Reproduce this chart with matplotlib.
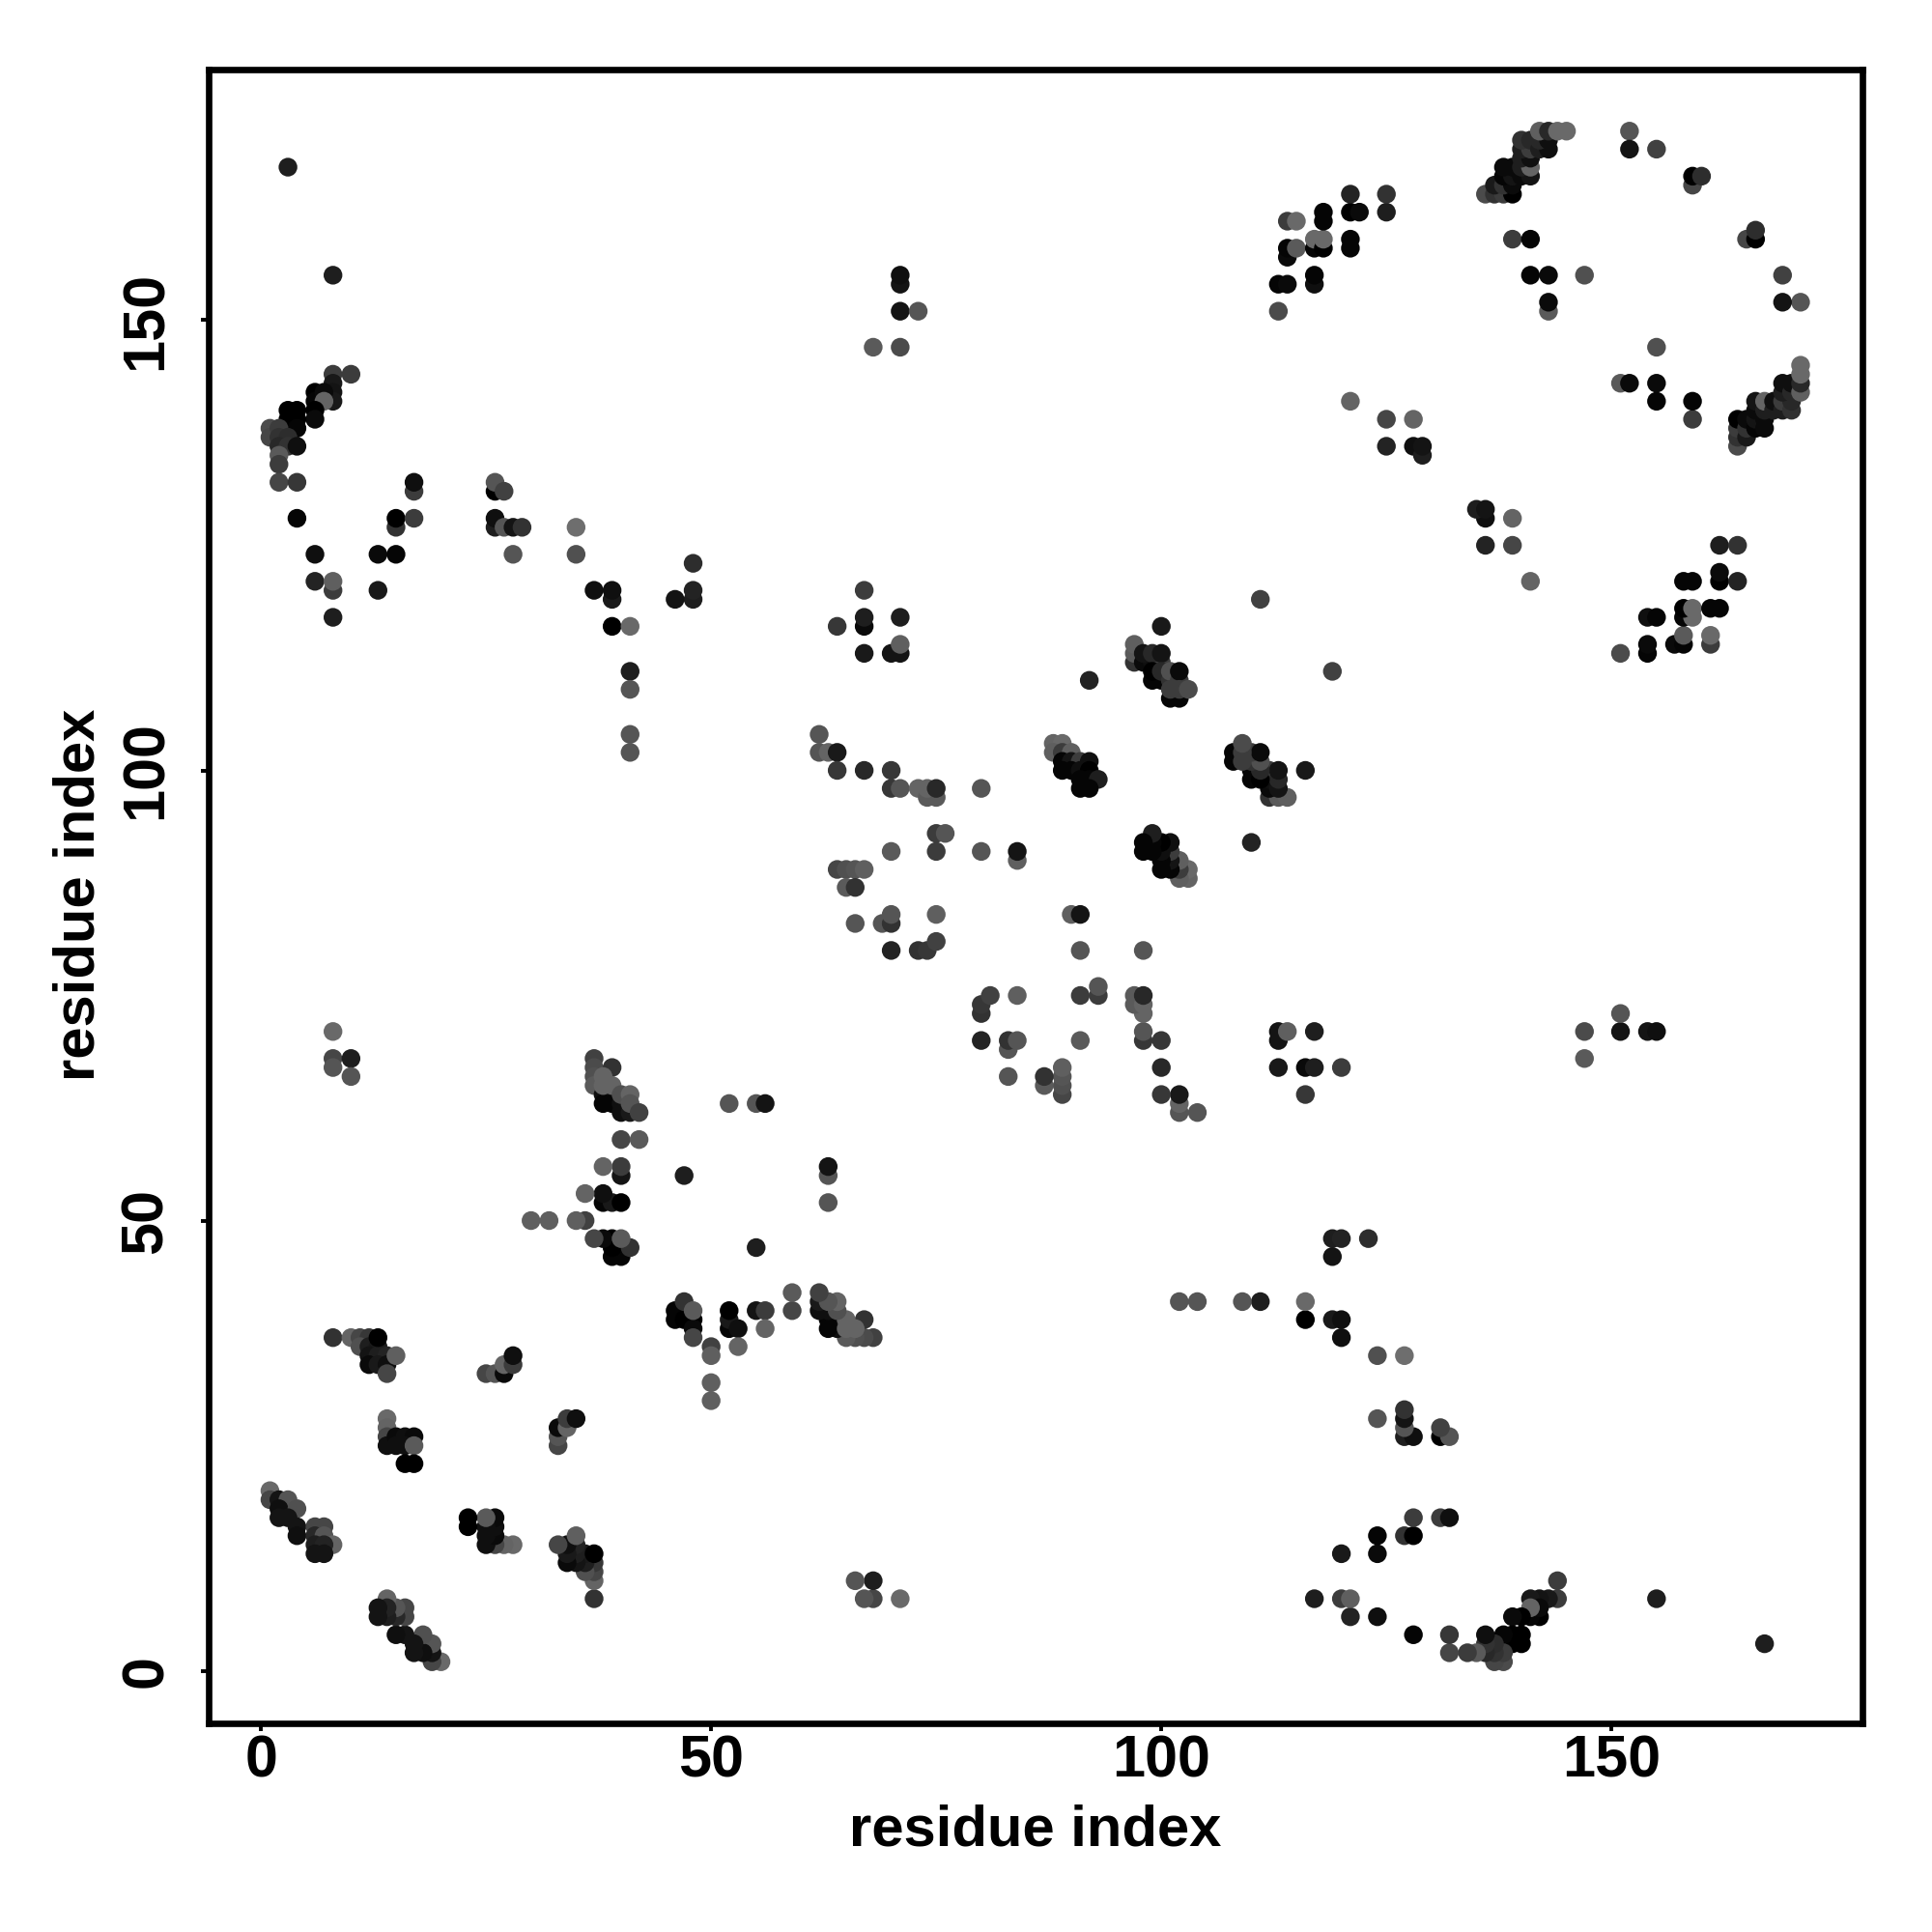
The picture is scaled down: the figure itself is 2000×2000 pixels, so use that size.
import matplotlib
matplotlib.use("Agg")
import matplotlib.pyplot as plt

# Contact pairs as (residue i, residue j, grey level 0-255); the map is symmetric.
near_1_8 = [(1,20,105),(1,19,70),(2,19,20),(3,19,85),(2,18,15),(4,18,80),(2,17,20),(3,17,20),
            (4,16,20),(4,15,15),(6,16,70),(7,16,70),(6,15,40),(7,15,85),(8,14,100),(6,14,30),
            (7,14,35),(6,13,20),(7,13,20)]
block_8_15 = [(8,37,50),(10,37,100),(11,37,70),(12,37,55),(11,36,80),(12,36,30),(13,36,25),
              (12,35,20),(13,35,30),(14,35,35),(12,34,10),(13,34,25),(14,34,15),(14,33,70),
              (13,37,0),(15,35,95)]
block_14_17 = [(14,28,105),(14,27,100),(14,26,70),(14,25,15),(15,26,10),(16,26,15),(17,26,10),
               (15,25,15),(16,25,15),(17,25,90),(16,23,0),(17,23,0)]
block_25_28 = [(25,33,70),(26,33,85),(27,33,10),(27,34,100),(28,34,60),(28,35,15)]
far_3_10 = [(8,71,105),(8,68,70),(8,67,85),(10,68,30),(10,66,85),(3,167,30),(8,155,30)]
sheet_30_47 = [(39,46,5),(40,46,5),(39,47,0),(41,47,50),(39,48,0),(38,48,10),(37,48,70),(40,48,90),
               (38,52,5),(39,52,25),(40,52,0),(38,53,15),(36,53,100),(40,55,20),(40,56,60),(38,56,100),
               (36,50,65),(35,50,95),(32,50,95),(30,50,95),(47,55,30)]
block_37_42 = [(37,68,65),(37,67,75),(37,66,80),(37,65,90),(39,67,50),(38,64,15),(39,64,15),(38,63,5),
               (39,63,5),(38,66,100),(39,65,100),(38,65,100),(40,63,15),(40,62,15),(41,62,25),
               (40,64,80),(41,64,100),(41,63,85),(42,62,65)]
row_59_63 = [(40,59,70),(42,59,90),(52,63,85),(55,63,85),(56,63,20)]
top_left = [(8,144,60),(10,144,60),(8,143,25),(8,142,20),(8,141,25),(6,142,0),(6,141,5),(7,142,10),
            (7,141,100),(6,140,0),(6,139,10),(3,140,0),(4,140,0),(3,139,0),(4,139,0),(3,138,0),(4,138,5),
            (1,138,75),(1,137,70),(2,138,60),(2,137,50),(3,137,45),(2,136,40),(3,136,50),(4,136,15),
            (2,135,90),(2,134,60),(2,132,70),(4,132,55)]
row_4_17 = [(4,128,5),(6,124,15),(6,121,35),(8,120,60),(8,121,95),(8,117,30),(13,124,10),(15,124,5),
            (13,120,25),(17,131,60),(17,132,15),(15,127,50),(15,128,0),(17,128,60)]
row_26_29 = [(26,131,0),(26,132,85),(27,131,65),(26,127,30),(26,128,15),(27,127,85),(28,127,20),
             (29,127,50),(28,124,85),(35,127,110),(35,124,80)]
row_37_48 = [(37,120,15),(39,119,25),(39,120,15),(39,116,0),(41,116,105),(41,111,30),(41,109,85),
             (41,104,85),(41,102,85),(48,123,45),(48,119,30),(48,120,35),(46,119,20)]
mid_62_71 = [(64,116,55),(67,116,10),(67,117,30),(71,117,30),(67,113,25),(70,113,20),(71,113,20),
             (71,114,95),(67,120,60)]
mid_62_80 = [(62,104,85),(62,102,85),(63,102,100),(64,102,25),(64,100,55),(67,100,40),(70,100,55),
             (70,98,55),(71,98,85),(73,98,100),(74,97,90),(75,97,90),(74,98,100),(75,98,40),(80,98,85)]
mid_70_84 = [(75,93,60),(76,93,85),(70,91,90),(75,91,60),(80,91,85),(84,90,95),(84,91,20)]
mid_64_67 = [(64,89,70),(65,89,80),(66,89,85),(67,89,95),(65,87,90),(66,87,50)]
mid_66_75 = [(66,83,85),(69,83,85),(70,83,50),(70,84,85),(75,84,95),(70,80,35),(73,80,50),(74,80,55),
             (75,81,65)]
long_68_73 = [(68,147,90),(71,147,75),(71,151,20),(73,151,85),(71,154,20),(71,155,15)]
helix_88_93 = [(88,103,100),(89,103,105),(88,102,95),(89,102,60),(90,102,95),(89,101,5),(90,101,20),
               (91,101,60),(92,101,15),(89,100,5),(90,100,5),(91,100,15),(92,100,0),(92,99,5),(91,99,5),
               (93,99,30),(91,98,5),(92,98,5)]
helix_97_103 = [(97,112,50),(97,113,90),(97,114,95),(98,112,10),(99,112,15),(100,112,60),(98,113,20),
                (99,113,40),(100,113,20),(99,110,5),(100,110,5),(99,111,0),(100,111,40),(101,110,50),
                (101,111,80),(102,110,60),(102,111,10),(101,108,5),(102,108,5),(101,109,60),(102,109,60),
                (103,109,75),(92,110,35),(100,116,25),(111,119,65)]
long_113_125 = [(113,151,75),(113,154,5),(114,154,10),(114,157,10),(114,158,5),(114,161,60),(115,158,90),
                (115,161,105),(117,154,15),(117,155,5),(117,158,5),(117,159,105),(118,158,0),(118,159,105),
                (118,161,5),(118,162,5),(121,158,5),(121,159,5),(121,162,0),(122,162,10),(121,164,35),
                (125,162,30),(125,164,50)]
long_121_129 = [(121,141,100),(125,139,70),(128,139,100),(125,136,35),(128,136,15),(129,135,30),(129,136,20)]
top_136_145 = [(136,164,75),(137,164,50),(138,164,60),(139,164,0),(137,165,25),(138,165,50),(139,165,10),
               (138,166,5),(139,166,20),(138,167,10),(139,167,10),(140,166,10),(141,166,20),(140,167,30),
               (141,167,100),(140,168,30),(141,168,15),(140,169,30),(141,169,60),(140,170,50),(141,170,40),
               (142,169,30),(143,169,15),(142,170,40),(143,170,15),(142,171,95),(143,171,40),(144,171,105),
               (145,171,105)]
long_139_160 = [(139,159,60),(141,159,5),(141,155,5),(143,155,10),(147,155,80),(143,151,90),(143,152,10),
                (152,171,85),(152,169,20),(155,169,65),(159,165,70),(159,166,0),(160,166,45)]

contact_groups = [near_1_8, block_8_15, block_14_17, block_25_28, far_3_10, sheet_30_47, block_37_42,
                  row_59_63, top_left, row_4_17, row_26_29, row_37_48, mid_62_71, mid_62_80, mid_70_84,
                  mid_64_67, mid_66_75, long_68_73, helix_88_93, helix_97_103, long_113_125, long_121_129,
                  top_136_145, long_139_160]
tick_values = [0, 50, 100, 150]
axis_label = "residue index"

contacts = [c for group in contact_groups for c in group]
res_i = [c[0] for c in contacts]
res_j = [c[1] for c in contacts]
greys = [(c[2] / 255,) * 3 for c in contacts]

plt.rcParams["font.family"] = ["Liberation Sans", "DejaVu Sans"]
plt.rcParams["font.weight"] = "bold"

fig = plt.figure(figsize=(20, 20), dpi=100, facecolor="white")
ax = fig.add_axes([215.7 / 2000, 1 - 1784 / 2000, 1712 / 2000, 1712 / 2000])

ax.scatter(res_i + res_j, res_j + res_i, s=195, c=greys + greys, linewidths=0, zorder=3, clip_on=True)

ax.set_xlim(-5.84, 177.84)
ax.set_ylim(-5.84, 177.84)
ax.set_xticks(tick_values)
ax.set_yticks(tick_values)
ax.tick_params(axis="both", length=6, width=2.8, labelsize=44, color="black")
ax.tick_params(axis="x", pad=2.5)
ax.tick_params(axis="y", pad=19)
for label in ax.get_yticklabels():
    label.set_rotation(90)
    label.set_verticalalignment("center")
for spine in ax.spines.values():
    spine.set_linewidth(4.8)

fig.text(1072 / 2000, 1 - 1895 / 2000, axis_label, ha="center", va="center", fontsize=43, fontweight="bold")
fig.text(82 / 2000, 1 - 926 / 2000, axis_label, ha="center", va="center", rotation=90, fontsize=43,
         fontweight="bold")

fig.savefig("out.png", dpi=100, facecolor="white")
